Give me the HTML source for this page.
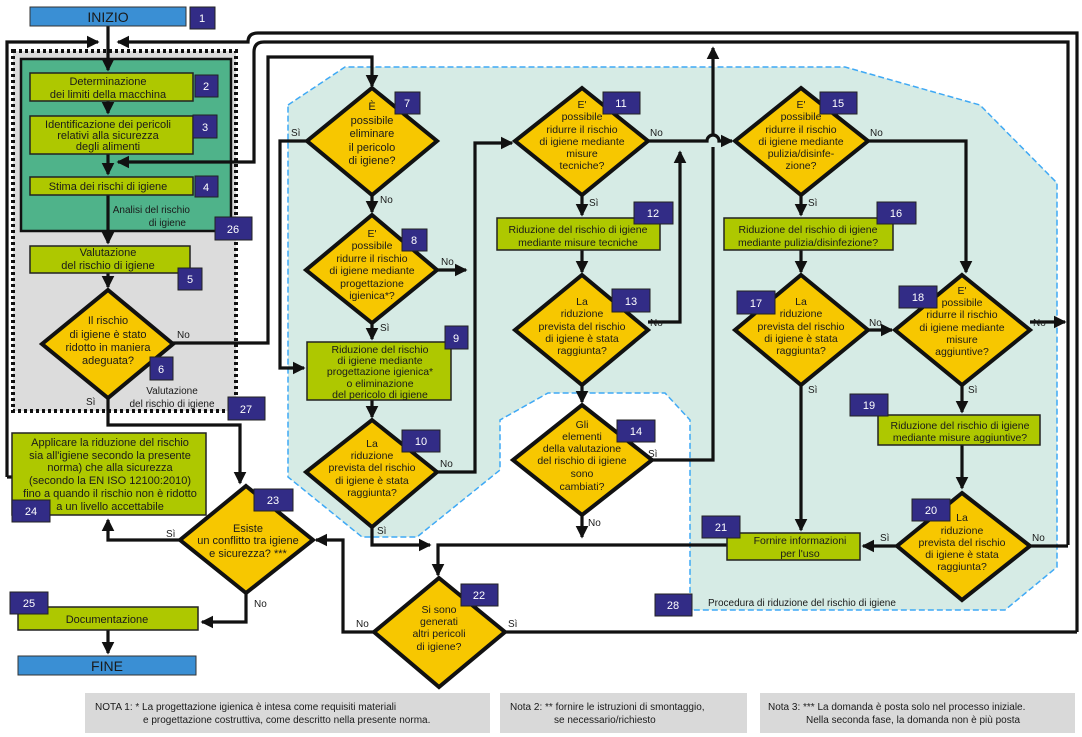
<!DOCTYPE html>
<html><head><meta charset="utf-8"><style>
html,body{margin:0;padding:0;background:#fff;}
svg{display:block;font-family:"Liberation Sans",Arial,sans-serif;}
.t{font-size:11px;fill:#1a1a1a;text-anchor:middle;}
.s{font-size:10.5px;fill:#1a1a1a;text-anchor:middle;}
.l{font-size:10px;fill:#1a1a1a;}
.n{font-size:11px;fill:#fff;text-anchor:middle;}
.ln{fill:none;stroke:#111;stroke-width:3.2;}
.bx{fill:#aec800;stroke:#222;stroke-width:1.5;}
.dm{fill:#f7c700;stroke:#111;stroke-width:4;}
.nb{fill:#322c86;stroke:#222;stroke-width:1;}
</style></head><body>
<svg width="1082" height="737" viewBox="0 0 1082 737" xmlns="http://www.w3.org/2000/svg">
<defs>
<marker id="a" markerWidth="4" markerHeight="4" refX="3.5" refY="2" orient="auto" markerUnits="strokeWidth"><path d="M0,0 L4,2 L0,4 z" fill="#111"/></marker>
</defs>
<!-- teal region -->
<path d="M288,105 L345,67 L845,67 L980,105 L1057,183 L1057,567 L1005,610 L690,610 L690,420 L665,393 L548,393 L500,420 L500,470 L417,537 L362,537 L288,477 Z" fill="#d6ebe5" stroke="#3fa9f5" stroke-width="1.5" stroke-dasharray="6,3"/>
<!-- dotted box 27 -->
<rect x="13" y="51" width="223" height="360" fill="#dcdcdc" stroke="#111" stroke-width="4" stroke-dasharray="3,3"/>
<rect x="21" y="59" width="210" height="172" fill="#4fb38a" stroke="#111" stroke-width="2.5"/>
<text class="l" x="190" y="213" text-anchor="end" style="font-size:10px">Analisi del rischio</text>
<text class="l" x="186" y="226" text-anchor="end">di igiene</text>
<text class="l" x="172" y="394" text-anchor="middle">Valutazione</text>
<text class="l" x="172" y="407" text-anchor="middle">del rischio di igiene</text>
<!-- notes -->
<rect x="85" y="693" width="405" height="40" fill="#d9d9d9"/>
<text class="l" x="95" y="710" style="font-size:10px">NOTA 1: * La progettazione igienica è intesa come requisiti materiali</text>
<text class="l" x="143" y="723">e progettazione costruttiva, come descritto nella presente norma.</text>
<rect x="500" y="693" width="247" height="40" fill="#d9d9d9"/>
<text class="l" x="510" y="710">Nota 2: ** fornire le istruzioni di smontaggio,</text>
<text class="l" x="554" y="723">se necessario/richiesto</text>
<rect x="760" y="693" width="315" height="40" fill="#d9d9d9"/>
<text class="l" x="768" y="710">Nota 3: *** La domanda è posta solo nel processo iniziale.</text>
<text class="l" x="806" y="723">Nella seconda fase, la domanda non è più posta</text>

<!-- connectors -->
<g class="ln">
<path d="M108,26 V70" marker-end="url(#a)"/>
<path d="M7,477 H12 M7,477 V42 H98" marker-end="url(#a)"/>
<path d="M1077,632 V33 H258 Q248,33 248,42 H118" marker-end="url(#a)"/>
<path d="M1068,545 V42 H264 Q254,42 254,52 V162 H118" marker-end="url(#a)"/>
<path d="M108,101 V113" marker-end="url(#a)"/>
<path d="M108,154 V174" marker-end="url(#a)"/>
<path d="M108,195 V243" marker-end="url(#a)"/>
<path d="M108,273 V287" marker-end="url(#a)"/>
<path d="M108,398 V425 H240 V483" marker-end="url(#a)"/>
<path d="M173,343 H268 V57 H372 V86" marker-end="url(#a)"/>
<path d="M307,141 H280 V368 H304" marker-end="url(#a)"/>
<path d="M372,195 V212" marker-end="url(#a)"/>
<path d="M437,270 H466" marker-end="url(#a)"/>
<path d="M372,323 V339" marker-end="url(#a)"/>
<path d="M372,400 V417" marker-end="url(#a)"/>
<path d="M437,472 H475 V143 H512" marker-end="url(#a)"/>
<path d="M372,527 V545 H430" marker-end="url(#a)"/>
<path d="M727,545 H438 V575" marker-end="url(#a)"/>
<path d="M648,141 H707 A6,6 0 0 1 719,141 H732" marker-end="url(#a)"/>
<path d="M582,195 V215" marker-end="url(#a)"/>
<path d="M582,250 V272" marker-end="url(#a)"/>
<path d="M648,322 H680 V152" marker-end="url(#a)"/>
<path d="M582,385 V402" marker-end="url(#a)"/>
<path d="M582,515 V537" marker-end="url(#a)"/>
<path d="M652,460 H713 V147 M713,135 V48" marker-end="url(#a)"/>
<path d="M868,141 H966 V272" marker-end="url(#a)"/>
<path d="M801,195 V215" marker-end="url(#a)"/>
<path d="M801,250 V272" marker-end="url(#a)"/>
<path d="M868,330 H892" marker-end="url(#a)"/>
<path d="M801,385 V530" marker-end="url(#a)"/>
<path d="M1030,322 H1065" marker-end="url(#a)"/>
<path d="M962,385 V412" marker-end="url(#a)"/>
<path d="M962,445 V488" marker-end="url(#a)"/>
<path d="M897,546 H863" marker-end="url(#a)"/>
<path d="M1030,546 H1068"/>
<path d="M374,632 H343 V540 H316" marker-end="url(#a)"/>
<path d="M505,632 H1077"/>
<path d="M180,540 H108 V520" marker-end="url(#a)"/>
<path d="M246,593 V622 H202" marker-end="url(#a)"/>
<path d="M108,630 V653" marker-end="url(#a)"/>
</g>

<!-- boxes -->
<rect x="30" y="7" width="156" height="19" fill="#3a8fd4" stroke="#333" stroke-width="1"/>
<text x="108" y="22" text-anchor="middle" style="font-size:14px;fill:#1a1a1a">INIZIO</text>
<rect x="18" y="656" width="178" height="19" fill="#3a8fd4" stroke="#333" stroke-width="1"/>
<text x="107" y="671" text-anchor="middle" style="font-size:14px;fill:#1a1a1a">FINE</text>

<rect class="bx" x="30" y="73" width="163" height="28"/>
<text class="t" x="108" y="85">Determinazione</text><text class="t" x="108" y="98">dei limiti della macchina</text>
<rect class="bx" x="30" y="116" width="163" height="38"/>
<text class="t" x="108" y="128">Identificazione dei pericoli</text><text class="t" x="108" y="139">relativi alla sicurezza</text><text class="t" x="108" y="150">degli alimenti</text>
<rect class="bx" x="30" y="177" width="163" height="18"/>
<text class="t" x="108" y="190">Stima dei rischi di igiene</text>
<rect class="bx" x="30" y="246" width="160" height="27"/>
<text class="t" x="108" y="256">Valutazione</text><text class="t" x="108" y="269">del rischio di igiene</text>
<rect class="bx" x="307" y="342" width="144" height="58"/>
<text class="s" x="380" y="353">Riduzione del rischio</text><text class="s" x="380" y="364">di igiene mediante</text><text class="s" x="380" y="375">progettazione  igienica*</text><text class="s" x="380" y="387">o eliminazione</text><text class="s" x="380" y="398">del pericolo di igiene</text>
<rect class="bx" x="497" y="218" width="163" height="32"/>
<text class="s" x="578" y="233">Riduzione del rischio di igiene</text><text class="s" x="578" y="246">mediante misure tecniche</text>
<rect class="bx" x="724" y="218" width="169" height="32"/>
<text class="s" x="808" y="233">Riduzione del rischio di igiene</text><text class="s" x="808" y="246">mediante pulizia/disinfezione?</text>
<rect class="bx" x="878" y="415" width="162" height="30"/>
<text class="s" x="960" y="429">Riduzione del rischio di igiene</text><text class="s" x="960" y="441">mediante  misure aggiuntive?</text>
<rect class="bx" x="727" y="533" width="133" height="27"/>
<text class="s" x="800" y="544">Fornire informazioni</text><text class="s" x="800" y="557">per l'uso</text>
<rect class="bx" x="12" y="433" width="194" height="82"/>
<text class="t" x="110" y="446">Applicare la riduzione del rischio</text><text class="t" x="110" y="459">sia all'igiene  secondo la presente</text><text class="t" x="110" y="471">norma) che alla sicurezza</text><text class="t" x="110" y="484">(secondo la EN ISO 12100:2010)</text><text class="t" x="110" y="497">fino a quando il rischio non è ridotto</text><text class="t" x="110" y="510">a un livello accettabile</text>
<rect class="bx" x="18" y="607" width="180" height="23"/>
<text class="t" x="107" y="623">Documentazione</text>

<!-- diamonds -->
<polygon class="dm" points="108,290 173,344 108,398 42,344"/>
<text class="t" x="108" y="324">Il rischio</text><text class="t" x="108" y="338">di igiene è stato</text><text class="t" x="108" y="351">ridotto in maniera</text><text class="t" x="108" y="364">adeguata?</text>
<polygon class="dm" points="372,88 437,141 372,195 307,141"/>
<text class="t" x="372" y="110">È</text><text class="t" x="372" y="124">possibile</text><text class="t" x="372" y="137">eliminare</text><text class="t" x="372" y="151">il pericolo</text><text class="t" x="372" y="164">di igiene?</text>
<polygon class="dm" points="372,215 437,270 372,323 306,270"/>
<text class="s" x="372" y="237">E'</text><text class="s" x="372" y="249">possibile</text><text class="s" x="372" y="262">ridurre il rischio</text><text class="s" x="372" y="274">di igiene mediante</text><text class="s" x="372" y="287">progettazione</text><text class="s" x="372" y="299">igienica*?</text>
<polygon class="dm" points="372,420 437,472 372,527 306,472"/>
<text class="s" x="372" y="447">La</text><text class="s" x="372" y="459">riduzione</text><text class="s" x="372" y="471">prevista del rischio</text><text class="s" x="372" y="484">di igiene è stata</text><text class="s" x="372" y="496">raggiunta?</text>
<polygon class="dm" points="582,88 648,141 582,195 515,141"/>
<text class="s" x="582" y="108">E'</text><text class="s" x="582" y="120">possibile</text><text class="s" x="582" y="133">ridurre il rischio</text><text class="s" x="582" y="145">di igiene mediante</text><text class="s" x="582" y="157">misure</text><text class="s" x="582" y="169">tecniche?</text>
<polygon class="dm" points="582,275 648,330 582,385 515,330"/>
<text class="s" x="582" y="305">La</text><text class="s" x="582" y="317">riduzione</text><text class="s" x="582" y="330">prevista del rischio</text><text class="s" x="582" y="342">di igiene è stata</text><text class="s" x="582" y="354">raggiunta?</text>
<polygon class="dm" points="582,405 652,460 582,515 513,460"/>
<text class="s" x="582" y="428">Gli</text><text class="s" x="582" y="440">elementi</text><text class="s" x="582" y="452">della valutazione</text><text class="s" x="582" y="464">del rischio di igiene</text><text class="s" x="582" y="477">sono</text><text class="s" x="582" y="490">cambiati?</text>
<polygon class="dm" points="801,88 868,141 801,195 735,141"/>
<text class="s" x="801" y="108">E'</text><text class="s" x="801" y="120">possibile</text><text class="s" x="801" y="133">ridurre il rischio</text><text class="s" x="801" y="145">di igiene mediante</text><text class="s" x="801" y="157">pulizia/disinfe-</text><text class="s" x="801" y="169">zione?</text>
<polygon class="dm" points="801,275 868,330 801,385 735,330"/>
<text class="s" x="801" y="305">La</text><text class="s" x="801" y="317">riduzione</text><text class="s" x="801" y="330">prevista del rischio</text><text class="s" x="801" y="342">di igiene è stata</text><text class="s" x="801" y="354">raggiunta?</text>
<polygon class="dm" points="962,275 1030,330 962,385 895,330"/>
<text class="s" x="962" y="294">E'</text><text class="s" x="962" y="306">possibile</text><text class="s" x="962" y="318">ridurre il rischio</text><text class="s" x="962" y="331">di igiene mediante</text><text class="s" x="962" y="343">misure</text><text class="s" x="962" y="355">aggiuntive?</text>
<polygon class="dm" points="962,493 1030,546 962,600 897,546"/>
<text class="s" x="962" y="521">La</text><text class="s" x="962" y="534">riduzione</text><text class="s" x="962" y="546">prevista del rischio</text><text class="s" x="962" y="558">di igiene è stata</text><text class="s" x="962" y="570">raggiunta?</text>
<polygon class="dm" points="439,578 505,632 439,687 374,632"/>
<text class="s" x="439" y="613">Si sono</text><text class="s" x="439" y="625">generati</text><text class="s" x="439" y="637">altri pericoli</text><text class="s" x="439" y="650">di igiene?</text>
<polygon class="dm" points="246,486 313,540 246,593 180,540"/>
<text class="t" x="248" y="532">Esiste</text><text class="t" x="248" y="544">un conflitto tra igiene</text><text class="t" x="248" y="557">e sicurezza? ***</text>

<!-- yes/no labels -->
<g class="l">
<text x="177" y="338">No</text><text x="86" y="405">Sì</text>
<text x="291" y="136">Sì</text><text x="380" y="203">No</text>
<text x="441" y="265">No</text><text x="380" y="331">Sì</text>
<text x="440" y="467">No</text><text x="377" y="534">Sì</text>
<text x="650" y="136">No</text><text x="589" y="206">Sì</text>
<text x="650" y="326">No</text><text x="648" y="457">Sì</text><text x="588" y="526">No</text>
<text x="870" y="136">No</text><text x="808" y="206">Sì</text>
<text x="869" y="326">No</text><text x="808" y="393">Sì</text>
<text x="1033" y="326">No</text><text x="968" y="393">Sì</text>
<text x="880" y="541">Sì</text><text x="1032" y="541">No</text>
<text x="356" y="627">No</text><text x="508" y="627">Sì</text>
<text x="166" y="537">Sì</text><text x="254" y="607">No</text>
</g>

<!-- number labels -->
<g>
<rect class="nb" x="190" y="7" width="25" height="22"/><text class="n" x="202" y="22">1</text>
<rect class="nb" x="195" y="75" width="23" height="22"/><text class="n" x="206" y="90">2</text>
<rect class="nb" x="193" y="115" width="24" height="23"/><text class="n" x="205" y="131">3</text>
<rect class="nb" x="195" y="176" width="23" height="21"/><text class="n" x="206" y="191">4</text>
<rect class="nb" x="178" y="268" width="24" height="22"/><text class="n" x="190" y="283">5</text>
<rect class="nb" x="150" y="357" width="23" height="23"/><text class="n" x="161" y="373">6</text>
<rect class="nb" x="395" y="92" width="25" height="22"/><text class="n" x="407" y="107">7</text>
<rect class="nb" x="402" y="229" width="25" height="22"/><text class="n" x="414" y="244">8</text>
<rect class="nb" x="445" y="326" width="23" height="23"/><text class="n" x="456" y="342">9</text>
<rect class="nb" x="402" y="430" width="38" height="22"/><text class="n" x="421" y="445">10</text>
<rect class="nb" x="603" y="92" width="37" height="22"/><text class="n" x="621" y="107">11</text>
<rect class="nb" x="634" y="202" width="39" height="22"/><text class="n" x="653" y="217">12</text>
<rect class="nb" x="612" y="289" width="38" height="23"/><text class="n" x="631" y="305">13</text>
<rect class="nb" x="617" y="420" width="38" height="22"/><text class="n" x="636" y="435">14</text>
<rect class="nb" x="820" y="92" width="37" height="22"/><text class="n" x="838" y="107">15</text>
<rect class="nb" x="877" y="202" width="39" height="22"/><text class="n" x="896" y="217">16</text>
<rect class="nb" x="737" y="291" width="38" height="23"/><text class="n" x="756" y="307">17</text>
<rect class="nb" x="899" y="286" width="38" height="22"/><text class="n" x="918" y="301">18</text>
<rect class="nb" x="850" y="394" width="38" height="22"/><text class="n" x="869" y="409">19</text>
<rect class="nb" x="912" y="499" width="38" height="22"/><text class="n" x="931" y="514">20</text>
<rect class="nb" x="702" y="516" width="38" height="22"/><text class="n" x="721" y="531">21</text>
<rect class="nb" x="461" y="584" width="37" height="22"/><text class="n" x="479" y="599">22</text>
<rect class="nb" x="254" y="489" width="39" height="22"/><text class="n" x="273" y="504">23</text>
<rect class="nb" x="12" y="500" width="38" height="22"/><text class="n" x="31" y="515">24</text>
<rect class="nb" x="10" y="592" width="38" height="22"/><text class="n" x="29" y="607">25</text>
<rect class="nb" x="215" y="217" width="37" height="23"/><text class="n" x="233" y="233">26</text>
<rect class="nb" x="228" y="397" width="37" height="23"/><text class="n" x="246" y="413">27</text>
<rect class="nb" x="655" y="594" width="37" height="22"/><text class="n" x="673" y="609">28</text>
</g>
<text class="l" x="708" y="606">Procedura di riduzione del rischio di igiene</text>
</svg>
</body></html>
